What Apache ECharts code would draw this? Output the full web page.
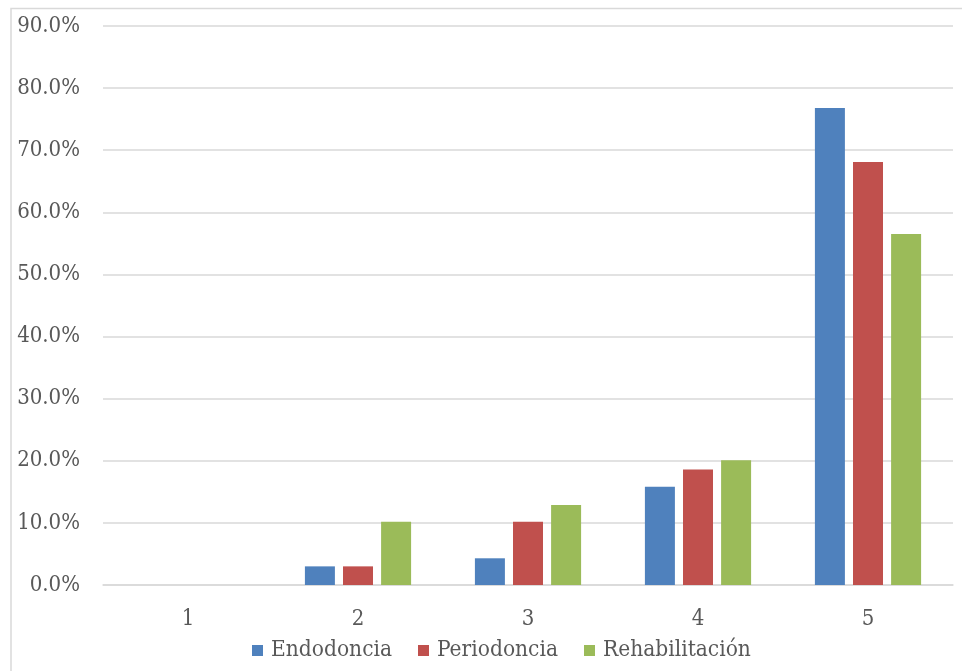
<!DOCTYPE html>
<html>
<head>
<meta charset="utf-8">
<script src="https://cdn.jsdelivr.net/npm/echarts@6/dist/echarts.min.js"></script>
<style>html,body{margin:0;padding:0;background:#fff;}#c{width:962px;height:671px;}</style>
</head>
<body>
<div id="c"></div>
<script>
var categories = ['1', '2', '3', '4', '5'];
var endodoncia = [0, 3.0, 4.3, 15.8, 76.8];
var periodoncia = [0, 3.0, 10.2, 18.6, 68.1];
var rehabilitacion = [0, 10.2, 12.9, 20.1, 56.5];
var seriesNames = ['Endodoncia', 'Periodoncia', 'Rehabilitación'];
var colors = ['#4F81BD', '#C0504D', '#9BBB59'];

var FONT = '"DejaVu Serif Condensed", "Liberation Serif", serif';
var chart = echarts.init(document.getElementById('c'), null, {renderer: 'canvas'});
function bar(name, data, color) {
  return {
    name: name, type: 'bar', data: data, barWidth: 30, barGap: '27%',
    itemStyle: {color: color}
  };
}
chart.setOption({
  animation: false,
  color: colors,
  textStyle: {fontFamily: FONT},
  graphic: [{
    type: 'rect', shape: {x: 11, y: 8.5, width: 980, height: 700},
    style: {fill: 'none', stroke: '#d9d9d9', lineWidth: 1.5}, silent: true, z: -1
  }],
  grid: {left: 103, right: 9, top: 26, bottom: 86, containLabel: false},
  legend: {
    data: seriesNames, bottom: 4, left: 247,
    icon: 'rect', itemWidth: 11, itemHeight: 11, itemGap: 26,
    textStyle: {fontFamily: FONT, fontSize: 22.5, color: '#595959', padding: [0, 0, 0, 3]}
  },
  xAxis: {
    type: 'category', data: categories,
    axisTick: {show: false},
    axisLine: {lineStyle: {color: '#d9d9d9', width: 1.5}},
    axisLabel: {fontFamily: FONT, fontSize: 22, color: '#595959', margin: 23}
  },
  yAxis: {
    type: 'value', min: 0, max: 90, interval: 10,
    axisLine: {show: false}, axisTick: {show: false},
    splitLine: {lineStyle: {color: '#d9d9d9', width: 1.5}},
    axisLabel: {fontFamily: FONT, fontSize: 22, color: '#595959', margin: 23,
      formatter: function (v) { return v.toFixed(1) + '%'; }}
  },
  series: [
    bar(seriesNames[0], endodoncia, colors[0]),
    bar(seriesNames[1], periodoncia, colors[1]),
    bar(seriesNames[2], rehabilitacion, colors[2])
  ]
});
</script>
</body>
</html>
